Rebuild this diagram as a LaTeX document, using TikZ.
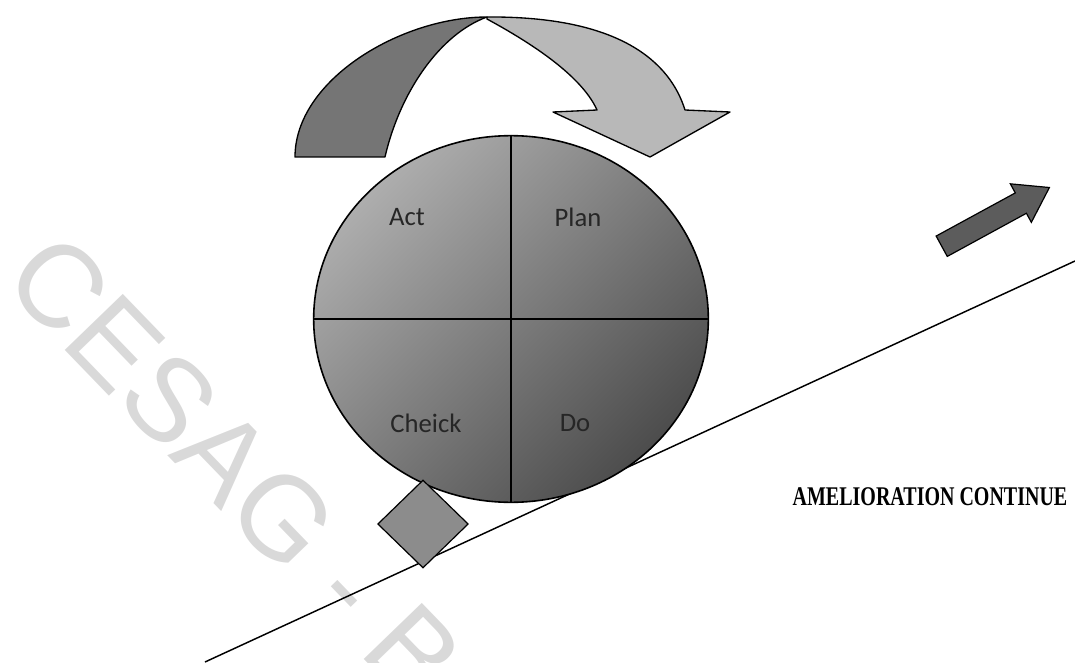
\documentclass[tikz,border=0pt]{standalone}
\usepackage{fontspec}
\usepackage{tikz}
\usetikzlibrary{shapes,arrows,positioning,shapes.geometric,shapes.arrows}
\newfontfamily\carlito{Carlito}
\newfontfamily\romaine{Liberation Serif}
\newfontfamily\sansfil{Liberation Sans}
\definecolor{arcfonce}{gray}{0.46}
\definecolor{arcclair}{gray}{0.72}
\definecolor{roueclair}{gray}{0.68}
\definecolor{rouefonce}{gray}{0.30}
\definecolor{calegris}{gray}{0.55}
\definecolor{progresgris}{gray}{0.36}
\definecolor{filigranegris}{gray}{0.85}
\tikzset{roue/.style={ellipse, draw=black, line width=1.2pt, inner sep=0pt, minimum width=296pt, minimum height=275pt,
 top color=roueclair, bottom color=rouefonce, shading angle=45}}
\tikzset{trait/.style={draw=black, line width=1.2pt}}
\tikzset{etiquette/.style={font=\carlito\fontsize{20}{24}\selectfont, text=black!85}}
\tikzset{fleche/.style={draw=black, line width=1pt, line join=round}}
\tikzset{pente/.style={draw=black, line width=1.1pt}}
\tikzstyle{cale} = [diamond, draw=black, line width=0.9pt, fill=calegris, inner sep=0pt, minimum width=68pt, minimum height=66pt]
\tikzstyle{progres} = [single arrow, draw=black, line width=0.9pt, fill=progresgris, inner xsep=0pt, inner ysep=8.25pt,
 minimum height=92pt, single arrow head extend=7.75pt, single arrow tip angle=68]
\tikzstyle{titre} = [font=\romaine\bfseries\fontsize{15}{18}\selectfont]
\tikzstyle{filigrane} = [font=\sansfil\fontsize{88}{96}\selectfont, text=filigranegris, inner sep=0pt]

\begin{document}
\begin{tikzpicture}[x=0.75pt, y=0.75pt]
\useasboundingbox (0,0) rectangle (1075,662);
        \node[filigrane, anchor=west, rotate=-46] (cesag) at (29,408) {CESAG - B};
        \coordinate (pente0) at (205,0);
        \coordinate (pente1) at (1075,401);
        \path[pente] (pente0) -- (pente1);
        % fleche courbe
        \filldraw[fleche, fill=arcfonce] (295,505) .. controls (295,582) and (401,645) .. (487,645)
          .. controls (440,628) and (400,570) .. (385,505) -- cycle;
        \filldraw[fleche, fill=arcclair] (487,645) .. controls (620,646) and (670,600) .. (685,552)
          -- (730,550) -- (650,505) -- (553,550) -- (597,552)
          .. controls (580,590) and (520,625) .. (487,643) -- cycle;
        \node[roue] (pdca) at (511,343) {};
        \path[trait] (pdca.north) -- (pdca.south);
        \path[trait] (pdca.west) -- (pdca.east);
        \node[etiquette] (act) at (407,445) {Act};
        \node[etiquette] (plan) at (578,445) {Plan};
        \node[etiquette] (check) at (426,239) {Cheick};
        \node[etiquette] (do) at (575,239) {Do};
        \node[cale] (cale) at (423,138) {};
        \node[titre] (amelioration) at (930,165) {\scalebox{1}[1.35]{AMELIORATION CONTINUE}};
        \node[progres, rotate=28.6] (fleche) at (988,441) {};
\end{tikzpicture}
\end{document}
